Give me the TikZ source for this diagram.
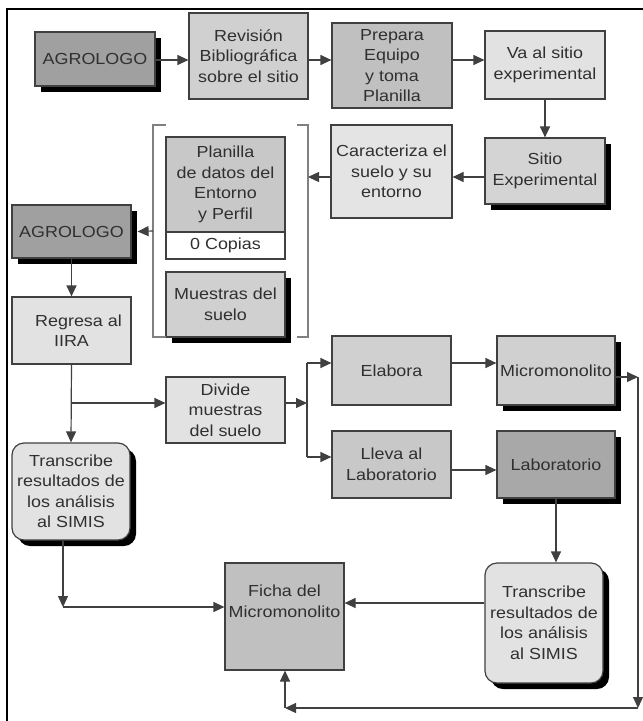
\documentclass[tikz,border=0pt]{standalone}
\usepackage{fontspec}
\setmainfont{Liberation Sans}[FakeStretch=1.12]
\usetikzlibrary{shadows,arrows.meta}
\definecolor{edge}{HTML}{404040}
\definecolor{txt}{HTML}{303030}
\begin{document}
\begin{tikzpicture}[x=1pt,y=-1pt,
  box/.style={draw=edge,line width=1.2pt,inner sep=0pt,align=center,text=txt,
    font=\fontsize{16}{20.5}\selectfont},
  shbox/.style={general shadow={fill=black,shadow xshift=6pt,shadow yshift=-6pt}},
  rbox/.style={box,rounded corners=12pt},
  arr/.style={draw=edge,line width=1.2pt,-{Triangle[length=11pt,width=10pt]}},
  ln/.style={draw=edge,line width=1.2pt},
  brk/.style={draw=gray,line width=1.2pt}]
\useasboundingbox (0,0) rectangle (643,721);
\fill[white] (0,0) rectangle (643,721);
\draw[line width=1.2pt,black] (7,721) -- (7,9) -- (643,9);
% nodes
\node[box,shbox,fill={rgb,255:red,160;green,160;blue,160},minimum width=120pt,minimum height=54pt] (ag1) at (95,59) {AGROLOGO};
\node[box,fill={rgb,255:red,208;green,208;blue,208},minimum width=119pt,minimum height=86pt] (rev) at (248.5,56) {Revisión\\Bibliográfica\\sobre el sitio};
\node[box,fill={rgb,255:red,192;green,192;blue,192},minimum width=120pt,minimum height=85pt] (prep) at (392,65.5) {Prepara\\Equipo\\y toma\\Planilla};
\node[box,fill={rgb,255:red,226;green,226;blue,226},minimum width=120pt,minimum height=68pt] (va) at (545,65) {Va al sitio\\experimental};
\node[box,shbox,fill={rgb,255:red,212;green,212;blue,212},minimum width=120pt,minimum height=66pt] (sit) at (545,171) {Sitio\\Experimental};
\node[box,fill={rgb,255:red,228;green,228;blue,228},minimum width=121pt,minimum height=93pt] (car) at (391.5,171.5) {Caracteriza el\\suelo y su\\entorno};
\node[box,fill={rgb,255:red,200;green,200;blue,200},minimum width=119pt,minimum height=95pt] (plan) at (225.5,184.5) {Planilla\\de datos del\\Entorno\\y Perfil};
\node[box,fill=white,minimum width=119pt,minimum height=27pt] (cop) at (225.5,245.5) {0 Copias};
\node[box,shbox,fill={rgb,255:red,208;green,208;blue,208},minimum width=119pt,minimum height=65pt] (mue) at (225.5,304.5) {Muestras del\\suelo};
\node[box,shbox,fill={rgb,255:red,160;green,160;blue,160},minimum width=119pt,minimum height=53pt] (ag2) at (71.5,231.5) {AGROLOGO};
\node[box,fill={rgb,255:red,226;green,226;blue,226},minimum width=119pt,minimum height=67pt] (reg) at (71.5,330.5) {\hspace*{14pt}Regresa al\\IIRA};
\node[box,fill={rgb,255:red,226;green,226;blue,226},minimum width=119pt,minimum height=66pt] (div) at (225.5,410) {Divide\\muestras\\del suelo};
\node[rbox,shbox,fill={rgb,255:red,226;green,226;blue,226},minimum width=118pt,minimum height=97pt] (tr1) at (71,491.5) {Transcribe\\resultados de\\los análisis\\al SIMIS};
\node[box,fill={rgb,255:red,192;green,192;blue,192},minimum width=119pt,minimum height=107pt] (fic) at (284.5,616.5) {Ficha del\\Micromonolito\\[10pt]};
\node[box,fill={rgb,255:red,208;green,208;blue,208},minimum width=119pt,minimum height=69pt] (ela) at (391.5,370.5) {Elabora};
\node[box,shbox,fill={rgb,255:red,208;green,208;blue,208},minimum width=118pt,minimum height=69pt] (mic) at (556,370.5) {Micromonolito};
\node[box,fill={rgb,255:red,200;green,200;blue,200},minimum width=119pt,minimum height=67pt] (lle) at (391.5,464.5) {Lleva al\\Laboratorio};
\node[box,shbox,fill={rgb,255:red,168;green,168;blue,168},minimum width=118pt,minimum height=67pt] (lab) at (556,464.5) {Laboratorio};
\node[rbox,shbox,fill={rgb,255:red,226;green,226;blue,226},minimum width=118pt,minimum height=120pt] (tr2) at (544,623) {Transcribe\\resultados de\\los análisis\\al SIMIS};
% bracket
\draw[brk] (166,125) -- (153,125) -- (153,337) -- (166,337);
\draw[brk] (297,125) -- (308,125) -- (308,337) -- (297,337);
\coordinate (brR) at (308,177);
\coordinate (brL) at (153,231);
% connectors
\draw[arr] (ag1.east |- 0,60) -- (rev.west |- 0,60);
\draw[arr] (rev.east |- 0,60) -- (prep.west |- 0,60);
\draw[arr] (prep.east |- 0,60) -- (va.west |- 0,60);
\draw[arr] (va.south) -- (sit.north);
\draw[arr] (sit.west |- 0,177) -- (car.east |- 0,177);
\draw[arr] (car.west |- 0,177) -- (brR);
\draw[arr] (brL) -- ([xshift=6pt]ag2.east);
\draw[arr] (ag2.south) -- (reg.north);
\draw[arr] (reg.south) -- (tr1.north);
\coordinate (b1) at (71,403);
\draw[arr] (b1) -- (div.west |- b1);
\coordinate (d1) at (307,403);
\draw[arr] (div.east |- d1) -- (d1);
\coordinate (v1) at (307,363);
\coordinate (v2) at (307,457);
\draw[ln] (v1) -- (v2);
\draw[arr] (v1) -- (ela.west |- v1);
\draw[arr] (v2) -- (lle.west |- v2);
\draw[arr] (ela.east |- v1) -- (mic.west |- v1);
\draw[arr] (lle.east |- 0,470) -- (lab.west |- 0,470);
\coordinate (m1) at (638,377);
\coordinate (m2) at (638,708);
\coordinate (m3) at (285,708);
\draw[arr] (mic.east |- m1) -- (m1);
\draw[arr] (m1) -- (m2);
\draw[arr] (m2) -- (m3);
\draw[arr] (m3) -- (m3 |- fic.south);
\draw[arr] (lab.south) -- (lab.south |- tr2.north);
\draw[arr] (tr2.west |- 0,603) -- (fic.east |- 0,603);
\coordinate (t1) at (63,607);
\draw[arr] (63,0 |- tr1.south) -- (t1);
\draw[arr] (t1) -- (fic.west |- t1);
\end{tikzpicture}
\end{document}
